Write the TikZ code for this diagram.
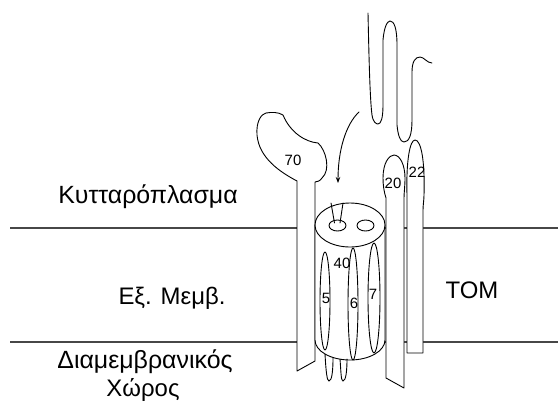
\documentclass[tikz,border=0pt]{standalone}
\usepackage{fontspec}
\setmainfont{Liberation Sans}
\usetikzlibrary{arrows.meta}
\begin{document}
\begin{tikzpicture}[x=1bp,y=-1bp,
  outline/.style={draw=black, line width=0.9bp, fill=white, line join=round},
  strand/.style={draw=black, line width=0.9bp, line cap=round},
  membrane/.style={draw=black!72, line width=1.3bp},
  region/.style={font=\fontsize{24}{28}\selectfont, inner sep=0pt},
  tag/.style={font=\fontsize{15}{17}\selectfont, inner sep=0pt},
]
\useasboundingbox (0,0) rectangle (558,412);

% outer membrane boundaries
\coordinate (mTopL) at (10,228);
\coordinate (mTopR) at (558,228);
\coordinate (mBotL) at (10,342);
\coordinate (mBotR) at (558,342);
\draw[membrane] (mTopL) -- (mTopR);
\draw[membrane] (mBotL) -- (mBotR);

% Tom70 receptor: head and membrane anchor
\draw[outline] (297,371) -- (297,181)
  .. controls (280,172) and (259,158) .. (257,135)
  .. controls (256,122) and (261,114) .. (266,113)
  .. controls (272,112) and (278,112) .. (283,115)
  .. controls (290,132) and (305,142) .. (318,143)
  .. controls (326,150) and (331,170) .. (322,178)
  .. controls (320,181) and (317,182) .. (315,182)
  -- (315,361) -- cycle;

% Tom20 receptor
\draw[outline] (386,378) -- (386,198)
  .. controls (384,192) and (383,185) .. (383,178)
  .. controls (383,163) and (389,155) .. (394,155)
  .. controls (400,155) and (405,165) .. (405,178)
  .. controls (405,186) and (404,193) .. (404,198)
  -- (404,388) -- cycle;

% Tom22 receptor
\draw[outline] (407,353) -- (407,195)
  .. controls (406,160) and (410,140) .. (415,140)
  .. controls (421,140) and (425,160) .. (424,195)
  .. controls (424,200) and (423,205) .. (423,210)
  -- (423,353) -- cycle;

% Tom40 channel barrel
\draw[outline] (315,225) -- (315,340)
  arc[start angle=180, end angle=360, x radius=35bp, y radius=20bp]
  -- (385,225) -- cycle;
\draw[outline] (350,225) ellipse[x radius=35bp, y radius=22bp];
\draw[outline] (337.5,225.5) ellipse[x radius=8.5bp, y radius=5.5bp];
\draw[outline] (365.5,225.5) ellipse[x radius=8.5bp, y radius=5.5bp];
\draw[strand] (331,203) -- (334.5,223);
\draw[strand] (343,203) -- (340,223);

% small subunits Tom5, Tom6, Tom7
\draw[outline] (325,301) ellipse[x radius=5bp, y radius=49bp];
\draw[outline] (353,304) ellipse[x radius=5bp, y radius=56bp];
\draw[outline] (374,298) ellipse[x radius=6bp, y radius=55bp];

% loops hanging into the intermembrane space
\draw[strand] (325,354) .. controls (326,372) and (327,381) .. (329,381)
  .. controls (332,381) and (333,370) .. (333,358);
\draw[strand] (340,359) .. controls (341,372) and (341,381) .. (343,381)
  .. controls (346,381) and (347,370) .. (347,359);

% incoming precursor chain
\draw[strand] (368,13)
  .. controls (369,60) and (370,100) .. (372,115)
  .. controls (373,122) and (376,124) .. (378,124)
  .. controls (381,124) and (383,118) .. (383,105)
  -- (383,40)
  .. controls (384,28) and (387,21) .. (390,21)
  .. controls (394,21) and (397,28) .. (397,45)
  -- (397,125)
  .. controls (398,135) and (400,142) .. (404,142)
  .. controls (409,142) and (412,135) .. (412,120)
  -- (412,72)
  .. controls (412,62) and (415,57) .. (420,57)
  .. controls (424,57) and (427,63) .. (432,63);

% import arrow into the pore
\coordinate (arrowFrom) at (359,112);
\coordinate (arrowTo) at (338,183);
\draw[strand, -{Stealth[length=6bp, width=4.5bp]}] (arrowFrom)
  .. controls (346,124) and (338,150) .. (arrowTo);

% labels
\node[tag] (t70) at (293,160) {70};
\node[tag] (t40) at (342,263) {40};
\node[tag] (t20) at (393,183) {20};
\node[tag] (t22) at (417,172) {22};
\node[tag] (t5) at (326,298) {5};
\node[tag] (t6) at (354,303) {6};
\node[tag] (t7) at (373,294) {7};

\node[region, font=\fontsize{25}{29}\selectfont] (cyto) at (148,197) {Κυτταρόπλασμα};
\node[region] (om) at (172,298) {Εξ. Μεμβ.};
\node[region, font=\fontsize{25}{29}\selectfont] (ims1) at (145,362) {Διαμεμβρανικός};
\node[region] (ims2) at (143,390) {Χώρος};
\node[region] (tom) at (472,290) {TOM};
\end{tikzpicture}
\end{document}
